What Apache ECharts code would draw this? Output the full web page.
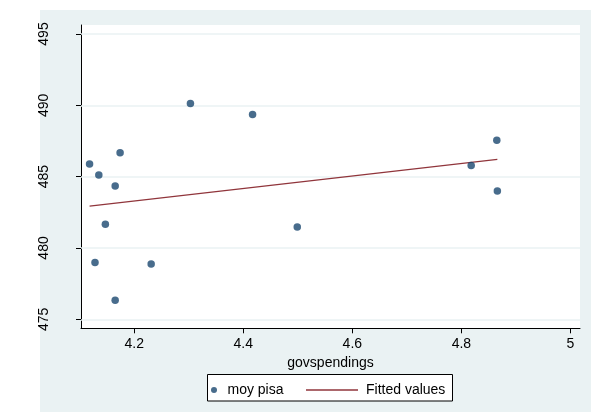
<!DOCTYPE html>
<html>
<head>
<meta charset="utf-8">
<script src="https://cdn.jsdelivr.net/npm/echarts@6/dist/echarts.min.js"></script>
<style>
  html, body { margin: 0; padding: 0; background: #ffffff; }
  #bg { position: absolute; left: 40px; top: 10px; width: 551px; height: 402px; background: #EAF2F3; }
  #chart { position: absolute; left: 0; top: 0; width: 591px; height: 412px; }
</style>
</head>
<body>
<div id="bg"></div>
<div id="chart"></div>
<script>
// Data
const govspendings = [4.118, 4.135, 4.174, 4.165, 4.147, 4.499, 4.818, 4.865, 4.866, 4.303, 4.417, 4.128, 4.231, 4.165];
const moyPisa      = [485.88, 485.12, 486.67, 484.35, 481.67, 481.47, 485.79, 487.56, 484.00, 490.12, 489.35, 478.98, 478.88, 476.33];
const fittedX = [4.118, 4.866];
const fittedY = [482.93, 486.21];
const xTicks = [4.2, 4.4, 4.6, 4.8, 5];
const yTicks = [475, 480, 485, 490, 495];
const seriesNames = ['moy pisa', 'Fitted values'];
const xTitle = 'govspendings';

const scatterData = govspendings.map((x, i) => [x, moyPisa[i]]);
const lineData = fittedX.map((x, i) => [x, fittedY[i]]);

const FONT = '"Liberation Sans", Arial, sans-serif';
const NAVY = '#1A476F';
const MAROON = '#90353B';
const chart = echarts.init(document.getElementById('chart'), null, { renderer: 'canvas' });

chart.setOption({
  animation: false,
  backgroundColor: 'transparent',
  textStyle: { fontFamily: FONT },
  graphic: [{
    type: 'rect',
    z: -1,
    shape: { x: 207.5, y: 374.5, width: 245, height: 26.5 },
    style: { fill: '#ffffff', stroke: '#000000', lineWidth: 1 }
  }],
  grid: {
    left: 81, top: 25, width: 499, height: 303.3,
    show: true, backgroundColor: '#ffffff', borderWidth: 0
  },
  xAxis: {
    type: 'value',
    min: 4.1023, max: 5.0176,
    name: xTitle,
    nameLocation: 'middle',
    nameGap: 24,
    nameTextStyle: { fontSize: 14, color: '#000', fontFamily: FONT },
    axisLine: { show: true, onZero: false, lineStyle: { color: '#000', width: 1 } },
    axisTick: { show: true, length: 5, customValues: xTicks, lineStyle: { color: '#000', width: 1 } },
    axisLabel: { customValues: xTicks, margin: 9, fontSize: 14, color: '#000', fontFamily: FONT },
    splitLine: { show: false }
  },
  yAxis: {
    type: 'value',
    min: 474.37, max: 495.63,
    axisLine: { show: true, onZero: false, lineStyle: { color: '#000', width: 1 } },
    axisTick: { show: true, length: 5, customValues: yTicks, lineStyle: { color: '#000', width: 1 } },
    axisLabel: { customValues: yTicks, rotate: 90, margin: 30, fontSize: 14, color: '#000', fontFamily: FONT },
    splitLine: { show: false }
  },
  legend: [{
    data: [{ name: seriesNames[0], icon: 'circle' }],
    left: 211, top: 383, padding: 0,
    itemWidth: 17, itemHeight: 6,
    textStyle: { fontSize: 14, color: '#000', fontFamily: FONT }
  }, {
    data: [{ name: seriesNames[1], icon: 'rect', itemStyle: { color: MAROON } }],
    left: 306, top: 383, padding: 0,
    itemWidth: 52, itemHeight: 1.3,
    textStyle: { fontSize: 14, color: '#000', fontFamily: FONT, padding: [0, 0, 0, 3] }
  }],
  series: [{
    name: seriesNames[0],
    type: 'scatter',
    data: scatterData,
    symbol: 'circle',
    symbolSize: 7.5,
    itemStyle: { color: NAVY },
    z: 3,
    markLine: {
      silent: true,
      symbol: 'none',
      label: { show: false },
      lineStyle: { color: '#EAF2F3', width: 1.5, type: 'solid' },
      data: yTicks.map(v => ({ yAxis: v })),
      z: 1
    }
  }, {
    name: seriesNames[1],
    type: 'line',
    data: lineData,
    symbol: 'none',
    showSymbol: false,
    lineStyle: { color: MAROON, width: 1.2 },
    itemStyle: { color: MAROON },
    z: 2
  }]
});
</script>
</body>
</html>
